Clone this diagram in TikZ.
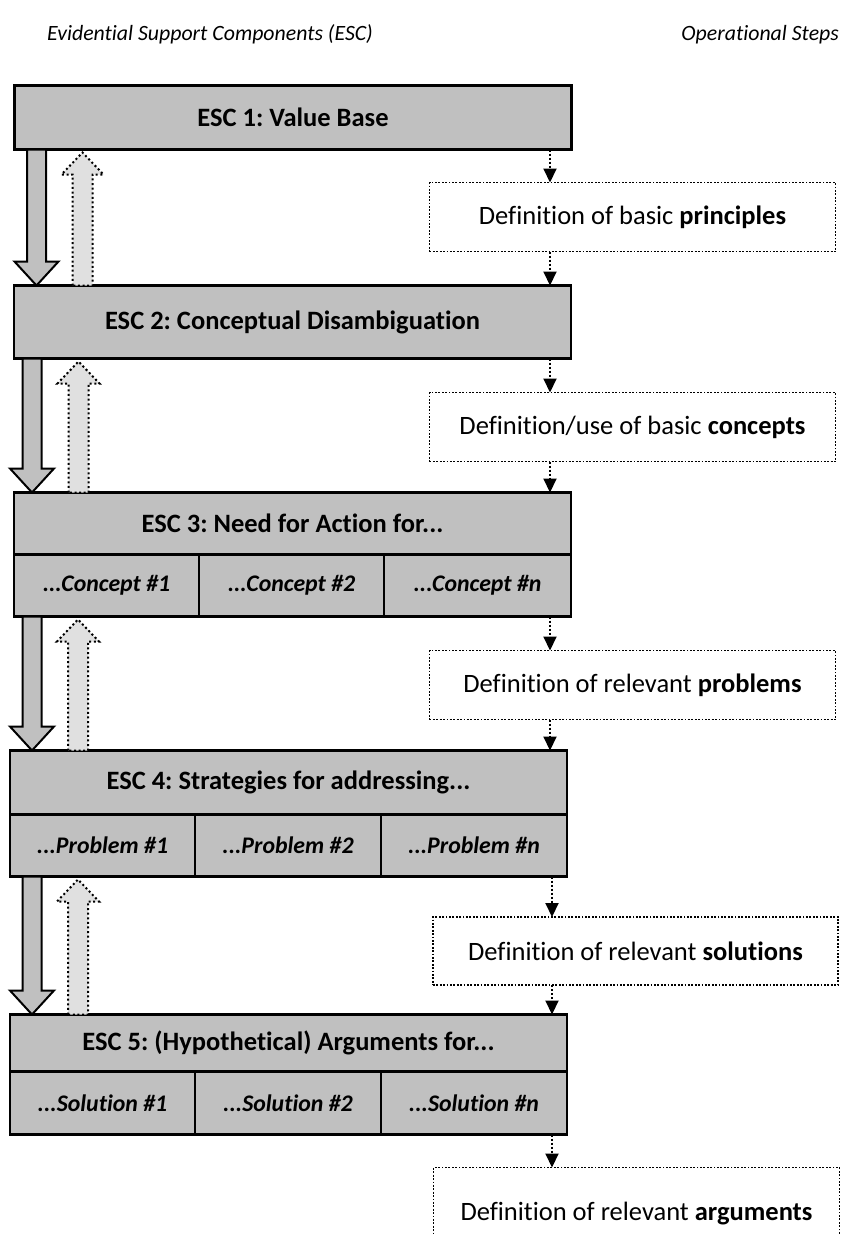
\documentclass[tikz,border=0pt]{standalone}
\usepackage{fontspec}
\setmainfont{Carlito}[Ligatures=NoCommon]
\usetikzlibrary{calc,arrows.meta}
\definecolor{escgray}{HTML}{C0C0C0}
\definecolor{upgray}{HTML}{E0E0E0}
\frenchspacing
\tikzset{
 escbox/.style={draw=black, fill=escgray, line width=2.6pt, outer sep=0pt, inner sep=0pt, anchor=north west, font=\fontsize{26.5}{30}\selectfont\bfseries},
 cellbox/.style={escbox, font=\fontsize{23.8}{28}\selectfont\bfseries\itshape},
 opbox/.style={draw=black, fill=white, line width=1.8pt, dash pattern=on 1.8pt off 1.6pt, outer sep=0pt, inner sep=0pt, anchor=north west, font=\fontsize{26.5}{30}\selectfont},
 opconn/.style={line width=2pt, dash pattern=on 2pt off 2pt, -{Triangle[length=14pt,width=13pt]}},
 downarr/.style={draw=black, fill=escgray, line width=2pt, line join=miter},
 uparr/.style={draw=black, fill=upgray, line width=2pt, dash pattern=on 2pt off 2.6pt},
 titletext/.style={font=\fontsize{21.8}{26}\selectfont\itshape, inner sep=0pt},
}
\newcommand\bigdownarrow[3]{%
 \draw[downarr] let \p1=(#2.south), \p2=(#3.north) in
  (#1pt-9.5pt,\y1) -- (#1pt+9.5pt,\y1) -- (#1pt+9.5pt,\y2+24pt) -- (#1pt+22pt,\y2+24pt)
  -- (#1pt,\y2) -- (#1pt-22pt,\y2+24pt) -- (#1pt-9.5pt,\y2+24pt) -- cycle;}
\newcommand\bigupwardarrow[3]{%
 \draw[uparr] let \p1=(#2.south), \p2=(#3.north) in
  (#1pt-10pt,\y2) -- (#1pt-10pt,\y1-25pt) -- (#1pt-21pt,\y1-25pt) -- (#1pt,\y1-3pt)
  -- (#1pt+21pt,\y1-25pt) -- (#1pt+10pt,\y1-25pt) -- (#1pt+10pt,\y2) -- cycle;}
\begin{document}
\begin{tikzpicture}[x=1pt,y=-1pt]
\useasboundingbox (0,0) rectangle (843,1235);
\clip (0,0) rectangle (843,1235);

% titles
\node[titletext, anchor=base west] (tleft) at (47,40) {Evidential Support Components (ESC)};
\node[titletext, anchor=base east] (tright) at (839,40) {Operational Steps};

% ESC 1 and 2
\node[escbox, minimum width=557pt, minimum height=64pt] (esc1) at (14.5,85.5) {ESC 1: Value Base};
\node[escbox, minimum width=557pt, minimum height=73pt] (esc2) at (14,285.5) {ESC 2: Conceptual Disambiguation};

% ESC 3
\node[escbox, minimum width=557pt, minimum height=62pt] (esc3) at (14,492.5) {ESC 3: Need for Action for...};
\node[cellbox, minimum width=185pt, minimum height=62pt] (c31) at (14,554.5) {...Concept \#1};
\node[cellbox, minimum width=185pt, minimum height=62pt] (c32) at (199,554.5) {...Concept \#2};
\node[cellbox, minimum width=187pt, minimum height=62pt] (c33) at (384,554.5) {...Concept \#n};

% ESC 4
\node[escbox, minimum width=557pt, minimum height=64pt] (esc4) at (10,750.5) {ESC 4: Strategies for addressing...};
\node[cellbox, minimum width=185pt, minimum height=62pt] (c41) at (10,814.5) {...Problem \#1};
\node[cellbox, minimum width=186pt, minimum height=62pt] (c42) at (195,814.5) {...Problem \#2};
\node[cellbox, minimum width=186pt, minimum height=62pt] (c43) at (381,814.5) {...Problem \#n};

% ESC 5
\node[escbox, minimum width=557pt, minimum height=57pt] (esc5) at (10,1014.5) {ESC 5: (Hypothetical) Arguments for...};
\node[cellbox, minimum width=185pt, minimum height=63pt] (c51) at (10,1071.5) {...Solution \#1};
\node[cellbox, minimum width=186pt, minimum height=63pt] (c52) at (195,1071.5) {...Solution \#2};
\node[cellbox, minimum width=186pt, minimum height=63pt] (c53) at (381,1071.5) {...Solution \#n};

% operational steps
\node[opbox, minimum width=406pt, minimum height=69pt] (op1) at (429.5,182.5) {Definition of basic \textbf{principles}};
\node[opbox, minimum width=406pt, minimum height=69pt] (op2) at (429.5,392.5) {Definition/use of basic \textbf{concepts}};
\node[opbox, minimum width=406pt, minimum height=69pt] (op3) at (429.5,650.5) {Definition of relevant \textbf{problems}};
\node[opbox, minimum width=405pt, minimum height=68pt] (op4) at (433,917) {Definition of relevant \textbf{solutions}};
\node[opbox, minimum width=406pt, minimum height=92pt] (op5) at (433.5,1167.5) {Definition of relevant \textbf{arguments}};

% connector lanes
\coordinate (lane) at (550,0);
\coordinate (laneb) at (552,0);

\draw[opconn] (esc1.south -| lane) -- (op1.north -| lane);
\draw[opconn] (op1.south -| lane) -- (esc2.north -| lane);
\draw[opconn] (esc2.south -| lane) -- (op2.north -| lane);
\draw[opconn] (op2.south -| lane) -- (esc3.north -| lane);
\draw[opconn] (c33.south -| lane) -- (op3.north -| lane);
\draw[opconn] (op3.south -| lane) -- (esc4.north -| lane);
\draw[opconn] (c43.south -| laneb) -- (op4.north -| laneb);
\draw[opconn] (op4.south -| laneb) -- (esc5.north -| laneb);
\draw[opconn] (c53.south -| laneb) -- (op5.north -| laneb);

% block arrows between ESC levels
\bigdownarrow{36.5}{esc1}{esc2}
\bigupwardarrow{82.5}{esc1}{esc2}
\bigdownarrow{32}{esc2}{esc3}
\bigupwardarrow{78.5}{esc2}{esc3}
\bigdownarrow{32}{c31}{esc4}
\bigupwardarrow{78}{c31}{esc4}
\bigdownarrow{32}{c41}{esc5}
\bigupwardarrow{78}{c41}{esc5}
\end{tikzpicture}
\end{document}
